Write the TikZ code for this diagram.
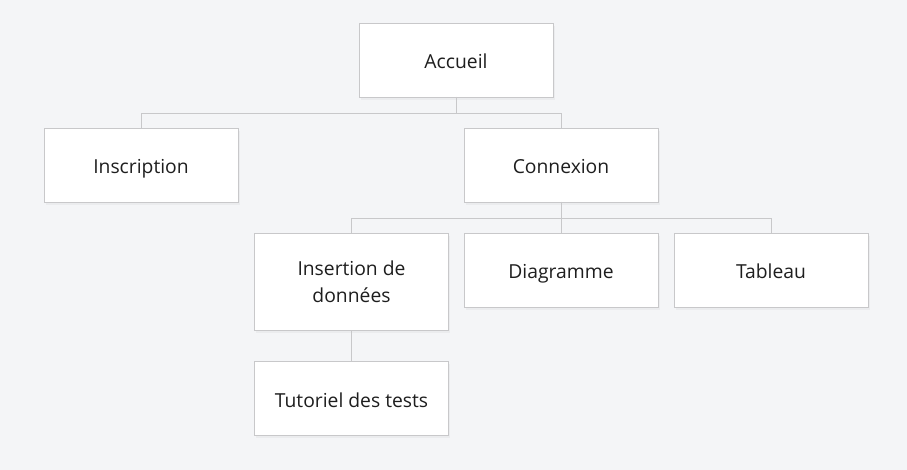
\documentclass[tikz,border=0pt]{standalone}
\usepackage{fontspec}
\setmainfont{Open Sans}
\usepackage{xcolor}
\usetikzlibrary{positioning, shadows}
\definecolor{bg}{HTML}{F4F5F7}
\definecolor{edge}{HTML}{C8C8CA}
\definecolor{ink}{HTML}{1E1E1E}
\tikzstyle{page} = [rectangle, minimum width=194pt, minimum height=74pt, outer sep=0pt, text centered, align=center, draw=edge, line width=0.8pt, fill=white, text=ink, font=\fontsize{19.3}{27}\selectfont, drop shadow={opacity=0.07, shadow xshift=1.5pt, shadow yshift=-3pt}]
\tikzstyle{oneline} = [page, text height=20pt, text depth=2pt]
\tikzstyle{link} = [edge, line width=0.8pt]

\begin{document}
\begin{tikzpicture}[node distance=31pt]
    \fill [bg] (0,0) rectangle (907pt,-470pt);
    \useasboundingbox (0,0) rectangle (907pt,-470pt);

    \node (accueil) [oneline] at (456pt,-60pt) {Accueil};

    \node (inscription) [oneline, below=of accueil, xshift=-315pt] {Inscription};
    \node (connexion) [oneline, below=of accueil, xshift=105pt] {Connexion};

    \node (insertion) [page, minimum height=97pt, below=of connexion.south, anchor=north, xshift=-209.5pt] {Insertion de\\données};
    \node (diagramme) [oneline, below=of connexion] {Diagramme};
    \node (tableau) [oneline, right=16pt of diagramme] {Tableau};

    \node (tutoriel) [oneline, below=of insertion] {Tutoriel des tests};

    \draw [link] (accueil.south) -- ++(0,-16pt) -| (inscription.north);
    \draw [link] (accueil.south) -- ++(0,-16pt) -| (connexion.north);
    \draw [link] (connexion.south) -- ++(0,-16pt) -| (insertion.north);
    \draw [link] (connexion.south) -- (diagramme.north);
    \draw [link] (connexion.south) -- ++(0,-16pt) -| (tableau.north);
    \draw [link] (insertion.south) -- (tutoriel.north);

\end{tikzpicture}
\end{document}
